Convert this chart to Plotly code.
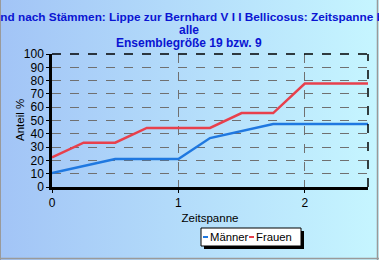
import base64
import plotly.graph_objects as go

# ---- data ----
zeitspanne = [0, 0.25, 0.5, 0.75, 1.0, 1.25, 1.5, 1.75, 2.0, 2.25, 2.5]
maenner = [10.5, 15.8, 21.1, 21.1, 21.1, 36.8, 42.1, 47.4, 47.4, 47.4, 47.4]
frauen = [22.2, 33.3, 33.3, 44.4, 44.4, 44.4, 55.6, 55.6, 77.8, 77.8, 77.8]
y_ticks = list(range(0, 101, 10))
x_ticks = [0, 1, 2]
title_lines = [
    "Verstorbene gesamt und nach Stämmen: Lippe zur Bernhard V I I Bellicosus: Zeitspanne bis Tod",
    "alle",
    "Ensemblegröße 19 bzw. 9",
]
series_names = ["Männer", "Frauen"]
colors = ["#1f78e0", "#e8404c"]

W, H = 379, 260
L, R, T, B = 52, 11, 54, 73
PW, PH = W - L - R, H - T - B


def px(x):
    return (x - L) / PW


def py(y):
    return (H - B - y) / PH


svg = f"""<svg xmlns='http://www.w3.org/2000/svg' width='{W}' height='{H}' preserveAspectRatio='none'>
<defs><linearGradient id='g' x1='0' y1='0' x2='1' y2='0'>
<stop offset='0' stop-color='#a2c4f6'/><stop offset='1' stop-color='#c6f6ff'/></linearGradient></defs>
<rect width='{W}' height='{H}' fill='url(#g)'/></svg>"""
bg_uri = "data:image/svg+xml;base64," + base64.b64encode(svg.encode()).decode()

fig = go.Figure()
for name, vals, c in zip(series_names, [maenner, frauen], colors):
    fig.add_trace(go.Scatter(x=zeitspanne, y=vals, mode="lines", name=name,
                             line=dict(color=c, width=2.5), showlegend=False))

font = "Liberation Sans, Arial, sans-serif"
fig.update_layout(
    width=W, height=H,
    margin=dict(l=L, r=R, t=T, b=B),
    paper_bgcolor="#b4dcfa",
    plot_bgcolor="rgba(0,0,0,0)",
    font=dict(family=font, size=12, color="black"),
    images=[dict(source=bg_uri, xref="paper", yref="paper",
                 x=px(0), y=py(0), sizex=W / PW, sizey=H / PH,
                 xanchor="left", yanchor="top", sizing="stretch", layer="below")],
    xaxis=dict(range=[0, 2.5], tickvals=x_ticks, ticktext=[str(v) for v in x_ticks],
               showgrid=True, gridcolor="#707070", griddash="dash", gridwidth=1,
               zeroline=False, showline=True, linecolor="black", linewidth=2.5,
               ticks="outside", ticklen=3, tickcolor="black",
               title=dict(text="Zeitspanne", font=dict(size=11.5), standoff=5)),
    yaxis=dict(range=[0, 100], tickvals=y_ticks, showgrid=True, gridcolor="#707070",
               griddash="dash", gridwidth=1, zeroline=False, showline=True,
               linecolor="black", linewidth=2.5, ticks="outside", ticklen=3,
               tickcolor="black"),
)

shapes = []
# top & right dashed border of plot area
shapes.append(dict(type="line", xref="paper", yref="paper", x0=0, x1=1, y0=1, y1=1,
                   line=dict(color="black", width=1.5, dash="dash")))
shapes.append(dict(type="line", xref="paper", yref="paper", x0=1, x1=1, y0=0, y1=1,
                   line=dict(color="black", width=1.5, dash="dash")))
# outer frame (left, right, bottom)
shapes.append(dict(type="line", xref="paper", yref="paper", x0=px(0.5), x1=px(0.5),
                   y0=py(0), y1=py(H), line=dict(color="#9a9a9a", width=1)))
shapes.append(dict(type="line", xref="paper", yref="paper", x0=px(377.5), x1=px(377.5),
                   y0=py(0), y1=py(H), line=dict(color="#9a9a9a", width=1.5)))
shapes.append(dict(type="line", xref="paper", yref="paper", x0=px(0), x1=px(W),
                   y0=py(258.5), y1=py(258.5), line=dict(color="#9a9a9a", width=1.5)))
# legend box with shadow
lx0, lx1, ly0, ly1 = 201, 301, 228, 246
shapes.append(dict(type="rect", xref="paper", yref="paper", x0=px(lx0 + 3), x1=px(lx1 + 3),
                   y0=py(ly0 + 3), y1=py(ly1 + 3), fillcolor="black", line=dict(width=0)))
shapes.append(dict(type="rect", xref="paper", yref="paper", x0=px(lx0), x1=px(lx1),
                   y0=py(ly0), y1=py(ly1), fillcolor="white",
                   line=dict(color="black", width=1)))
annotations = []
item_x = [203, 249]
for i, (name, c) in enumerate(zip(series_names, colors)):
    shapes.append(dict(type="line", xref="paper", yref="paper", x0=px(item_x[i]),
                       x1=px(item_x[i] + 5), y0=py(237), y1=py(237),
                       line=dict(color=c, width=2)))
    annotations.append(dict(text=name, xref="paper", yref="paper", x=px(item_x[i] + 7),
                            y=py(237), xanchor="left", yanchor="middle", showarrow=False,
                            borderpad=0, borderwidth=0,
                            font=dict(size=11.3, color="black", family=font)))
# y axis title
annotations.append(dict(text="Anteil %", xref="paper", yref="paper", x=px(19.5), y=0.5,
                        xanchor="center", yanchor="middle", textangle=-90, showarrow=False,
                        borderpad=0, borderwidth=0,
                        font=dict(size=11.5, color="black", family=font)))
# title
title_color = "#0a14d2"
annotations.append(dict(text=f"<b>{title_lines[0]}</b>", xref="paper", yref="paper",
                        x=px(-123.5), y=py(16.5), xanchor="left", yanchor="middle",
                        showarrow=False, borderpad=0, borderwidth=0,
                        font=dict(size=11.8, color=title_color, family=font)))
for txt, yc in zip(title_lines[1:], [30, 43]):
    annotations.append(dict(text=f"<b>{txt}</b>", xref="paper", yref="paper", x=px(189),
                            y=py(yc), xanchor="center", yanchor="middle", showarrow=False,
                            borderpad=0, borderwidth=0,
                            font=dict(size=12, color=title_color, family=font)))
fig.update_layout(shapes=shapes, annotations=annotations)

fig.write_html("out.html")
